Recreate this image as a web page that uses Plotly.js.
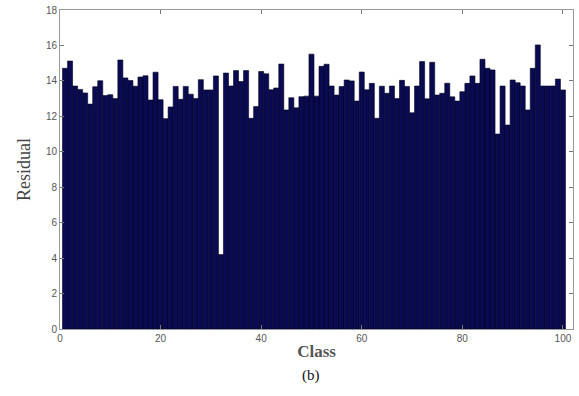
<!DOCTYPE html>
<html>
<head>
<meta charset="utf-8">
<script src="https://cdn.plot.ly/plotly-3.0.1.min.js"></script>
<style>html,body{margin:0;padding:0;background:#fff;}#chart{width:579px;height:396px;}</style>
</head>
<body>
<div id="chart"></div>
<script>
const classes = Array.from({length: 100}, (_, i) => i + 1);
const residual = [
  14.71, 15.12, 13.71, 13.52, 13.32, 12.69, 13.67, 14.01, 13.17, 13.22,
  13.00, 15.18, 14.17, 14.02, 13.70, 14.22, 14.29, 12.92, 14.49, 12.94,
  11.87, 12.53, 13.69, 12.96, 13.69, 13.25, 13.01, 14.07, 13.49, 13.49,
  14.28, 4.20, 14.44, 13.71, 14.58, 13.96, 14.58, 11.89, 12.55, 14.53,
  14.40, 13.50, 13.60, 14.95, 12.36, 13.05, 12.48, 13.11, 13.14, 15.51,
  13.14, 14.82, 14.94, 13.71, 13.20, 13.68, 14.05, 14.00, 12.86, 14.50,
  13.50, 13.86, 11.89, 13.70, 13.30, 13.71, 13.00, 14.03, 13.69, 12.20,
  13.71, 15.09, 12.99, 15.05, 13.20, 13.30, 13.87, 13.10, 12.86, 13.39,
  13.86, 14.28, 13.86, 15.22, 14.71, 14.62, 11.00, 13.71, 11.51, 14.05,
  13.90, 13.71, 12.36, 14.71, 16.03, 13.71, 13.71, 13.71, 14.10, 13.49
];
const xTicks = [0, 20, 40, 60, 80, 100];
const yTicks = [0, 2, 4, 6, 8, 10, 12, 14, 16, 18];

const tickFont = {family: 'Liberation Sans, Arial, sans-serif', size: 10, color: '#555'};

Plotly.newPlot('chart', [{
  type: 'bar',
  x: classes,
  y: residual,
  width: 1,
  marker: {color: '#0a0a52', line: {color: '#02021f', width: 0.6}},
  hoverinfo: 'x+y'
}], {
  width: 579, height: 396,
  margin: {l: 60, r: 6, t: 10, b: 67},
  paper_bgcolor: '#fff', plot_bgcolor: '#fff',
  showlegend: false,
  bargap: 0,
  xaxis: {
    range: [0, 102], tickvals: xTicks, ticktext: xTicks.map(String),
    ticks: 'inside', ticklen: 4, tickcolor: '#777', mirror: 'ticks',
    showline: true, linecolor: '#999', linewidth: 1,
    showgrid: false, zeroline: false, tickfont: tickFont,
    title: {text: '<b>Class</b>', font: {family: 'Liberation Serif, Times New Roman, serif', size: 17, color: '#555'}, standoff: 2}
  },
  yaxis: {
    range: [0, 18], tickvals: yTicks, ticktext: yTicks.map(String),
    ticks: 'inside', ticklen: 4, tickcolor: '#777', mirror: 'ticks',
    showline: true, linecolor: '#999', linewidth: 1,
    showgrid: false, zeroline: false, tickfont: tickFont,
    title: {text: 'Residual', font: {family: 'Liberation Serif, Times New Roman, serif', size: 18, color: '#444'}, standoff: 10}
  },
  annotations: [{
    text: '(b)', xref: 'paper', yref: 'paper', x: 0.49, y: -0.145,
    xanchor: 'center', yanchor: 'middle', showarrow: false,
    font: {family: 'Liberation Serif, Times New Roman, serif', size: 15, color: '#111'}
  }]
}, {displayModeBar: false, staticPlot: true});
</script>
</body>
</html>
